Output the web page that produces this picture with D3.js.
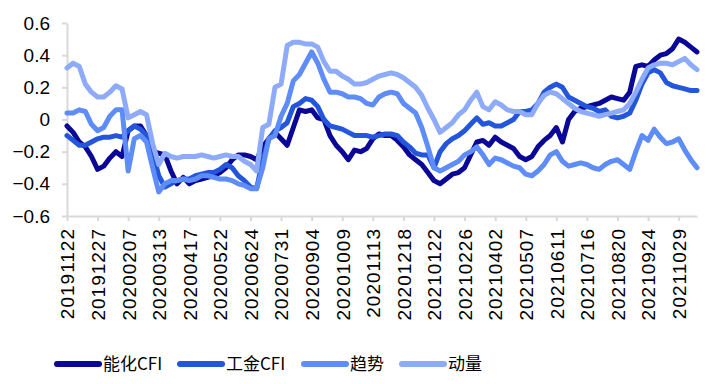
<!DOCTYPE html>
<html>
<head>
<meta charset="utf-8">
<script src="https://cdn.jsdelivr.net/npm/d3@7"></script>
<style>
  body { margin: 0; background: #fff; }
  svg text { font-family: "Liberation Sans", Arial, sans-serif; fill: #000; }
  .legend text { font-family: "Noto Sans CJK SC", "Liberation Sans", sans-serif; }
</style>
</head>
<body>
<svg id="chart"></svg>
<script>
// every 5th week gets a label
const tickLabels = ['20191122','20191227','20200207','20200313','20200417','20200522','20200624',
    '20200731','20200904','20201009','20201113','20201218','20210122','20210226','20210402',
    '20210507','20210611','20210716','20210820','20210924','20211029'];

const yTicks = [-0.6, -0.4, -0.2, 0, 0.2, 0.4, 0.6];

const seriesNames = ['能化CFI', '工金CFI', '趋势', '动量'];
const seriesColors = ['#0b0897', '#2356db', '#5e8cf8', '#8eabf9'];

const nenghua = [-0.04,-0.08,-0.14,-0.17,-0.23,-0.31,-0.29,-0.24,-0.2,-0.23,
    -0.07,-0.04,-0.04,-0.1,-0.2,-0.21,-0.22,-0.32,-0.4,-0.36,
    -0.4,-0.38,-0.37,-0.36,-0.35,-0.33,-0.3,-0.25,-0.22,-0.22,
    -0.23,-0.25,-0.17,-0.12,-0.08,-0.12,-0.16,-0.05,0.06,0.05,
    0.06,0.01,0.0,-0.1,-0.16,-0.2,-0.25,-0.19,-0.2,-0.18,
    -0.12,-0.09,-0.1,-0.1,-0.13,-0.17,-0.22,-0.25,-0.28,-0.33,
    -0.38,-0.4,-0.37,-0.34,-0.33,-0.3,-0.22,-0.14,-0.13,-0.16,
    -0.11,-0.14,-0.16,-0.18,-0.23,-0.25,-0.23,-0.17,-0.13,-0.1,
    -0.05,-0.14,0.0,0.05,0.07,0.08,0.09,0.1,0.12,0.14,
    0.13,0.12,0.17,0.33,0.34,0.33,0.37,0.4,0.41,0.44,
    0.5,0.48,0.45,0.42];

const gongjin = [-0.1,-0.13,-0.16,-0.16,-0.14,-0.12,-0.11,-0.11,-0.1,-0.11,
    -0.07,-0.04,-0.06,-0.1,-0.2,-0.35,-0.42,-0.4,-0.38,-0.37,
    -0.37,-0.35,-0.34,-0.33,-0.33,-0.31,-0.28,-0.3,-0.35,-0.38,
    -0.42,-0.43,-0.25,-0.12,-0.07,-0.05,-0.02,0.08,0.1,0.13,
    0.12,0.08,0.0,-0.04,-0.05,-0.06,-0.08,-0.1,-0.1,-0.1,
    -0.11,-0.1,-0.09,-0.09,-0.1,-0.14,-0.17,-0.21,-0.22,-0.22,
    -0.3,-0.2,-0.15,-0.12,-0.1,-0.07,-0.03,0.01,-0.03,-0.02,
    -0.04,-0.04,-0.02,0.0,0.05,0.05,0.06,0.1,0.17,0.2,
    0.22,0.2,0.14,0.12,0.1,0.08,0.07,0.05,0.06,0.02,
    0.01,0.02,0.04,0.12,0.22,0.29,0.31,0.29,0.23,0.21,
    0.2,0.19,0.18,0.18];

const qushi = [0.04,0.04,0.06,0.05,-0.03,-0.07,-0.05,0.02,0.06,0.06,
    -0.32,-0.12,-0.1,-0.14,-0.3,-0.45,-0.4,-0.38,-0.38,-0.37,
    -0.38,-0.37,-0.35,-0.35,-0.36,-0.37,-0.37,-0.38,-0.4,-0.41,
    -0.43,-0.43,-0.3,-0.12,-0.1,0.02,0.1,0.24,0.28,0.35,
    0.42,0.35,0.25,0.17,0.17,0.16,0.14,0.14,0.13,0.1,
    0.09,0.14,0.16,0.17,0.16,0.1,0.07,0.04,-0.05,-0.17,
    -0.3,-0.32,-0.3,-0.28,-0.26,-0.22,-0.2,-0.17,-0.22,-0.28,
    -0.24,-0.25,-0.27,-0.29,-0.3,-0.34,-0.35,-0.32,-0.28,-0.22,
    -0.2,-0.26,-0.29,-0.28,-0.27,-0.28,-0.3,-0.31,-0.28,-0.26,
    -0.25,-0.28,-0.31,-0.2,-0.1,-0.13,-0.06,-0.11,-0.15,-0.14,
    -0.12,-0.19,-0.25,-0.3];

const dongliang = [0.32,0.35,0.33,0.22,0.17,0.14,0.14,0.17,0.21,0.19,
    0.01,0.03,0.05,0.03,-0.15,-0.28,-0.21,-0.23,-0.24,-0.23,
    -0.23,-0.23,-0.22,-0.23,-0.24,-0.23,-0.22,-0.23,-0.23,-0.26,
    -0.28,-0.32,-0.05,-0.03,0.2,0.22,0.46,0.48,0.48,0.47,
    0.47,0.45,0.36,0.3,0.3,0.27,0.25,0.22,0.22,0.23,
    0.25,0.27,0.28,0.29,0.28,0.26,0.23,0.2,0.15,0.07,
    0.0,-0.08,-0.05,-0.02,0.03,0.06,0.12,0.17,0.08,0.06,
    0.11,0.09,0.06,0.05,0.05,0.03,0.03,0.1,0.15,0.17,
    0.16,0.13,0.1,0.07,0.05,0.04,0.03,0.02,0.03,0.04,
    0.05,0.06,0.1,0.17,0.25,0.32,0.34,0.35,0.35,0.34,
    0.36,0.38,0.34,0.31];

class LineChart {

    constructor(_config, _data) {
        this.config = {
            parentElement: _config.parentElement,
            containerWidth: _config.containerWidth || 714,
            containerHeight: _config.containerHeight || 384,
            margin: {top: 23, right: 17, bottom: 168, left: 67}
        }
        this.data = _data;
        this.initVis();
    }

    initVis() {
        let vis = this;

        vis.width = vis.config.containerWidth - vis.config.margin.left - vis.config.margin.right;
        vis.height = vis.config.containerHeight - vis.config.margin.top - vis.config.margin.bottom;

        vis.xScale = d3.scaleLinear()
            .domain([0, vis.data[0].values.length - 1])
            .range([0, vis.width]);

        vis.yScale = d3.scaleLinear()
            .domain([-0.6, 0.6])
            .range([vis.height, 0]);

        vis.xAxis = d3.axisBottom(vis.xScale)
            .tickValues(d3.range(0, tickLabels.length * 5, 5))
            .tickFormat(d => tickLabels[d / 5])
            .tickSize(5)
            .tickSizeOuter(0);

        vis.yAxis = d3.axisLeft(vis.yScale)
            .tickValues(yTicks)
            .tickFormat(d => d === 0 ? '0' : d3.format('.1f')(d))
            .tickSize(5)
            .tickPadding(12)
            .tickSizeOuter(0);

        vis.svg = d3.select(vis.config.parentElement)
            .attr('width', vis.config.containerWidth)
            .attr('height', vis.config.containerHeight);

        vis.chart = vis.svg.append('g')
            .attr('transform', `translate(${vis.config.margin.left},${vis.config.margin.top})`);

        vis.xAxisG = vis.chart.append('g')
            .attr('class', 'x-axis')
            .attr('transform', `translate(0,${vis.height})`);

        vis.yAxisG = vis.chart.append('g')
            .attr('class', 'y-axis');

        vis.line = d3.line()
            .x((d, i) => vis.xScale(i))
            .y(d => vis.yScale(d));

        vis.renderVis();
    }

    renderVis() {
        let vis = this;

        vis.xAxisG.call(vis.xAxis);
        vis.xAxisG.selectAll('.domain, .tick line')
            .attr('stroke', '#d9d9d9')
            .attr('stroke-width', 2);
        vis.xAxisG.selectAll('.tick text')
            .attr('transform', 'rotate(-90)')
            .attr('text-anchor', 'end')
            .attr('x', -12)
            .attr('y', 0)
            .attr('dy', '0.36em')
            .style('font-size', '19px')
            .style('letter-spacing', '1px');

        vis.yAxisG.call(vis.yAxis);
        vis.yAxisG.selectAll('.domain, .tick line')
            .attr('stroke', '#d9d9d9')
            .attr('stroke-width', 2);
        vis.yAxisG.selectAll('.tick text')
            .style('font-size', '19px');

        vis.chart.selectAll('.series')
            .data(vis.data)
            .join('path')
            .attr('class', 'series')
            .attr('fill', 'none')
            .attr('stroke', d => d.color)
            .attr('stroke-width', 5)
            .attr('stroke-linejoin', 'round')
            .attr('stroke-linecap', 'round')
            .attr('d', d => vis.line(d.values));

        // legend under the date labels
        const legendX = [55, 178, 302, 400];
        vis.legend = vis.svg.append('g')
            .attr('class', 'legend')
            .attr('transform', 'translate(0,364)');

        const item = vis.legend.selectAll('.item')
            .data(vis.data)
            .join('g')
            .attr('class', 'item')
            .attr('transform', (d, i) => `translate(${legendX[i]},0)`);

        item.append('line')
            .attr('x1', 2).attr('x2', 44)
            .attr('stroke', d => d.color)
            .attr('stroke-width', 6)
            .attr('stroke-linecap', 'round');

        item.append('text')
            .attr('x', 48)
            .attr('dy', '0.35em')
            .style('font-size', '17px')
            .text(d => d.name);
    }
}

const chartData = [nenghua, gongjin, qushi, dongliang].map((v, i) => ({
    name: seriesNames[i], color: seriesColors[i], values: v
}));

const lineChart = new LineChart({parentElement: '#chart'}, chartData);
</script>
</body>
</html>
